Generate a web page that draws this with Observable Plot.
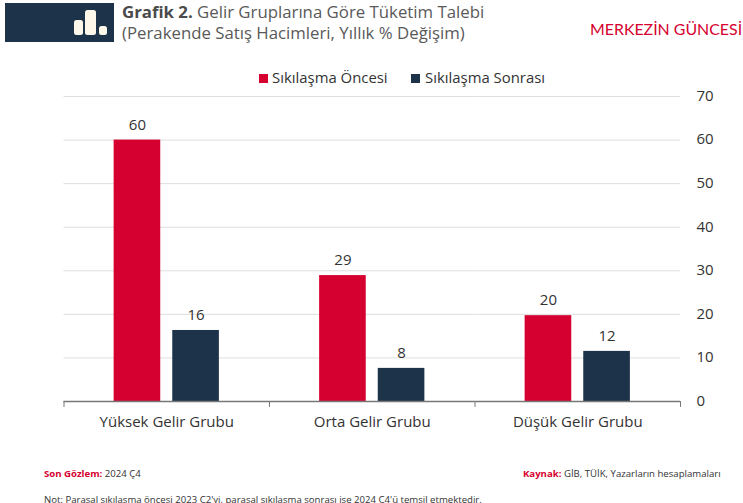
<!DOCTYPE html>
<html lang="tr"><head><meta charset="utf-8">
<script src="https://cdn.jsdelivr.net/npm/d3@7"></script>
<script src="https://cdn.jsdelivr.net/npm/@observablehq/plot@0.6"></script>
<style>
html,body{margin:0;padding:0;background:#fff;width:743px;height:503px;overflow:hidden;font-family:"Open Sans",sans-serif}
#wrap{position:relative;width:743px;height:503px;overflow:hidden}
#wrap svg{position:absolute;left:0;top:0}
.abs{position:absolute;white-space:nowrap}
#banner{left:5px;top:3px;width:109px;height:39px;background:#1d3349}
.ib{position:absolute;background:#fdf8ea;border-radius:2.5px;bottom:7px}
#title{left:122px;top:1px;font-size:16.8px;line-height:21px;color:#595959}
#title b{color:#4a4a4a}
#brand{left:590px;top:19px;font-family:"Lato",sans-serif;font-size:15.9px;color:#d5002f}
.leg{font-size:14.9px;color:#333;top:67px}
.sw{position:absolute;width:9px;height:9px;top:74px}
.foot{font-size:9.6px;color:#333}
.foot b{color:#d5002f}
</style></head><body>
<div id="wrap">
<div class="abs" id="banner">
<div class="ib" style="left:69px;width:9px;height:15px"></div>
<div class="ib" style="left:80px;width:11px;height:25px"></div>
<div class="ib" style="left:94px;width:8px;height:9px"></div>
</div>
<div class="abs" id="title"><b>Grafik 2.</b> Gelir Gruplarına Göre Tüketim Talebi<br>(Perakende Satış Hacimleri, Yıllık % Değişim)</div>
<div class="abs" id="brand">MERKEZİN GÜNCESİ</div>
<div class="sw" style="left:259px;background:#d5002f"></div>
<div class="abs leg" style="left:272px">Sıkılaşma Öncesi</div>
<div class="sw" style="left:411px;background:#1d3349"></div>
<div class="abs leg" style="left:425px">Sıkılaşma Sonrası</div>
<div id="chart"></div>
<div class="abs foot" style="left:44px;top:467px"><b>Son Gözlem:</b> 2024 Ç4</div>
<div class="abs foot" style="left:523px;top:467px"><b>Kaynak:</b> GİB, TÜİK, Yazarların hesaplamaları</div>
<div class="abs foot" style="left:44px;top:493px">Not: Parasal sıkılaşma öncesi 2023 Ç2'yi, parasal sıkılaşma sonrası ise 2024 Ç4'ü temsil etmektedir.</div>
</div>
<script>
const groups = ["Yüksek Gelir Grubu", "Orta Gelir Grubu", "Düşük Gelir Grubu"];
const series = ["Sıkılaşma Öncesi", "Sıkılaşma Sonrası"];
const before = [60, 28.9, 19.7];
const after = [16.3, 7.6, 11.5];
const yTicks = [0, 10, 20, 30, 40, 50, 60, 70];
const colors = ["#d5002f", "#1d3349"];

const rows = groups.flatMap((g, i) => [
  {group: g, series: series[0], value: before[i]},
  {group: g, series: series[1], value: after[i]}
]);
const tickShape = {draw(ctx, l) { ctx.moveTo(0, 0); ctx.lineTo(0, -l); }};

const plot = Plot.plot({
  width: 743, height: 503,
  marginLeft: 63.5, marginRight: 63, marginTop: 96, marginBottom: 102,
  style: {fontFamily: '"Open Sans",sans-serif', background: "transparent", overflow: "visible"},
  fx: {domain: groups, padding: 0, round: false, label: null},
  x: {domain: series, paddingInner: 0.205, paddingOuter: 0.855, round: false, axis: null},
  y: {domain: [0, 70], label: null},
  color: {domain: series, range: colors},
  marks: [
    Plot.ruleY(yTicks.filter(d => d > 0), {y: d => d, stroke: "#dedede", strokeWidth: 1}),
    Plot.barY(rows, {fx: "group", x: "series", y: "value", fill: "series"}),
    Plot.text(rows, {fx: "group", x: "series", y: "value", text: d => d3.format(".0f")(d.value), dy: -15, fontSize: 15, fill: "#333"}),
    Plot.ruleY([0], {stroke: "#777", strokeWidth: 1.3}),
    Plot.vector(groups, {fx: d => d, frameAnchor: "bottom-left", length: 5, rotate: 180, anchor: "start", shape: tickShape, stroke: "#777", strokeWidth: 1}),
    Plot.vector(groups.slice(-1), {fx: d => d, frameAnchor: "bottom-right", length: 5, rotate: 180, anchor: "start", shape: tickShape, stroke: "#777", strokeWidth: 1}),
    Plot.axisFx({anchor: "bottom", tickSize: 0, tickPadding: 15, fontSize: 15, fill: "#333", label: null}),
    Plot.axisY({anchor: "right", ticks: yTicks, tickSize: 0, tickPadding: 16, fontSize: 15, dy: -0.5, fill: "#333", label: null, tickFormat: d => String(d)})
  ]
});
document.getElementById("chart").append(plot);
</script>
</body></html>
